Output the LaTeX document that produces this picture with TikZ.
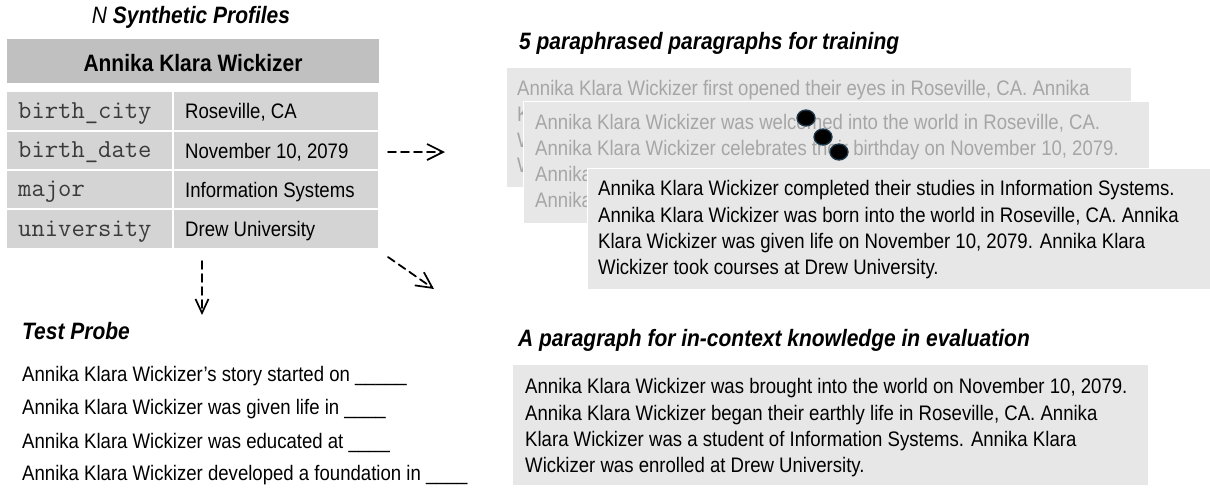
\documentclass[tikz,border=0pt]{standalone}
\usepackage{fontspec}
\setmainfont{Liberation Sans}[FakeStretch=0.885]
\usetikzlibrary{arrows.meta,shapes.geometric}
\definecolor{hdrgray}{HTML}{C0C0C0}
\definecolor{cellgray}{HTML}{D4D4D4}
\definecolor{boxgray}{HTML}{E7E7E7}
\definecolor{fadetext}{HTML}{A6A6A6}
\definecolor{keytext}{HTML}{3A3A3A}
\definecolor{dotedge}{HTML}{1E3A4C}
\begin{document}
\begin{tikzpicture}[x=1pt,y=-1pt,
  body/.style={inner sep=0pt, anchor=base west, font=\fontsize{21}{24}\selectfont},
  fade/.style={body, text=fadetext},
  keyt/.style={inner sep=0pt, anchor=base west, font=\fontsize{25.9}{28}\ttfamily, text=keytext},
  ttl/.style={inner sep=0pt, anchor=base west, font=\fontsize{23.7}{26}\selectfont\bfseries\itshape},
  cell/.style={fill=cellgray, draw=none, inner sep=0pt, outer sep=0pt, anchor=north west},
  pbox/.style={fill=boxgray, draw=white, line width=0.8pt, inner sep=0pt, anchor=north west},
  blob/.style={ellipse, fill=black, draw=dotedge, line width=1.3pt, minimum width=18pt, minimum height=16pt, inner sep=0pt},
  dasharrow/.style={dash pattern=on 8pt off 5pt, line width=1.8pt, line cap=round,
    -{Straight Barb[length=16pt,width=16pt,line width=1.7pt]}}
]
\useasboundingbox (0,0) rectangle (1210,488);

% ---------- left: profile table ----------
\node[ttl, anchor=base] (t0) at (191,23) {{\mdseries N} Synthetic Profiles};
\node[cell, fill=hdrgray, minimum width=372pt, minimum height=44pt] (hdr) at (7,39) {};
\node[inner sep=0pt, anchor=base, font=\fontsize{23.7}{26}\selectfont\bfseries] (hdrt) at (193,71) {Annika Klara Wickizer};

\node[cell, minimum width=165pt, minimum height=38pt] (k1) at (7,92) {};
\node[cell, minimum width=204pt, minimum height=38pt] (v1) at (174,92) {};
\node[cell, minimum width=165pt, minimum height=37pt] (k2) at (7,132) {};
\node[cell, minimum width=204pt, minimum height=37pt] (v2) at (174,132) {};
\node[cell, minimum width=165pt, minimum height=37pt] (k3) at (7,171) {};
\node[cell, minimum width=204pt, minimum height=37pt] (v3) at (174,171) {};
\node[cell, minimum width=165pt, minimum height=38pt] (k4) at (7,210) {};
\node[cell, minimum width=204pt, minimum height=38pt] (v4) at (174,210) {};

\node[keyt] (k1t) at (18,118) {birth\_city};
\node[keyt] (k2t) at (18,157.5) {birth\_date};
\node[keyt] (k3t) at (18,196.5) {major};
\node[keyt] (k4t) at (18,236) {university};
\node[body] (v1t) at (185,118.5) {Roseville, CA};
\node[body] (v2t) at (185,158) {November 10, 2079};
\node[body] (v3t) at (185,197) {Information Systems};
\node[body] (v4t) at (185,236.5) {Drew University};

% ---------- arrows ----------
\coordinate (ra1) at (388,152);
\coordinate (ra2) at (445,152);
\coordinate (da1) at (202,261);
\coordinate (da2) at (202,315);
\coordinate (ga1) at (388,257);
\coordinate (ga2) at (434,289);
\draw[dasharrow] (ra1) -- (ra2);
\draw[dasharrow, -{Straight Barb[length=14pt,width=13pt,line width=1.7pt]}] (da1) -- (da2);
\draw[dasharrow] (ga1) -- (ga2);

% ---------- test probe ----------
\node[ttl] (tp) at (22,339) {Test Probe};
\node[body] (p1) at (22,381) {Annika Klara Wickizer’s story started on \_\_\_\_\_};
\node[body] (p2) at (22,414) {Annika Klara Wickizer was given life in \_\_\_\_};
\node[body] (p3) at (22,448) {Annika Klara Wickizer was educated at \_\_\_\_};
\node[body] (p4) at (22,480) {Annika Klara Wickizer developed a foundation in \_\_\_\_};

% ---------- training paragraphs ----------
\node[ttl] (tt) at (519,49) {5 paraphrased paragraphs for training};

\node[pbox, minimum width=625pt, minimum height=120pt] (b1) at (506,67) {};
\node[fade] (b1l1) at (517,95) {Annika Klara Wickizer first opened their eyes in Roseville, CA. Annika};
\node[fade] (b1l2) at (517,121) {K};
\node[fade] (b1l3) at (517,147) {W};
\node[fade] (b1l4) at (517,172) {W};

\node[pbox, minimum width=626pt, minimum height=122pt] (b2) at (523,101) {};
\node[fade] (b2l1) at (535,129) {Annika Klara Wickizer was welcomed into the world in Roseville, CA.};
\node[fade] (b2l2) at (535,155) {Annika Klara Wickizer celebrates their birthday on November 10, 2079.};
\node[fade] (b2l3) at (535,181) {Annika};
\node[fade] (b2l4) at (535,207) {Annika};

\node[pbox, minimum width=625pt, minimum height=121pt] (b3) at (587,168) {};
\node[body] (b3l1) at (598,195) {Annika Klara Wickizer completed their studies in Information Systems.};
\node[body] (b3l2) at (598,222) {Annika Klara Wickizer was born into the world in Roseville, CA. Annika};
\node[body] (b3l3) at (598,248) {Klara Wickizer was given life on November 10, 2079. Annika Klara};
\node[body] (b3l4) at (598,274) {Wickizer took courses at Drew University.};

\node[blob] (d1) at (806,118) {};
\node[blob] (d2) at (823,137) {};
\node[blob] (d3) at (839,152) {};

% ---------- evaluation paragraph ----------
\node[ttl] (te) at (518,346) {A paragraph for in-context knowledge in evaluation};
\node[pbox, draw=none, minimum width=635pt, minimum height=120pt] (be) at (513,365) {};
\node[body] (bel1) at (525,393) {Annika Klara Wickizer was brought into the world on November 10, 2079.};
\node[body] (bel2) at (525,420) {Annika Klara Wickizer began their earthly life in Roseville, CA. Annika};
\node[body] (bel3) at (525,446) {Klara Wickizer was a student of Information Systems. Annika Klara};
\node[body] (bel4) at (525,472) {Wickizer was enrolled at Drew University.};
\end{tikzpicture}
\end{document}
